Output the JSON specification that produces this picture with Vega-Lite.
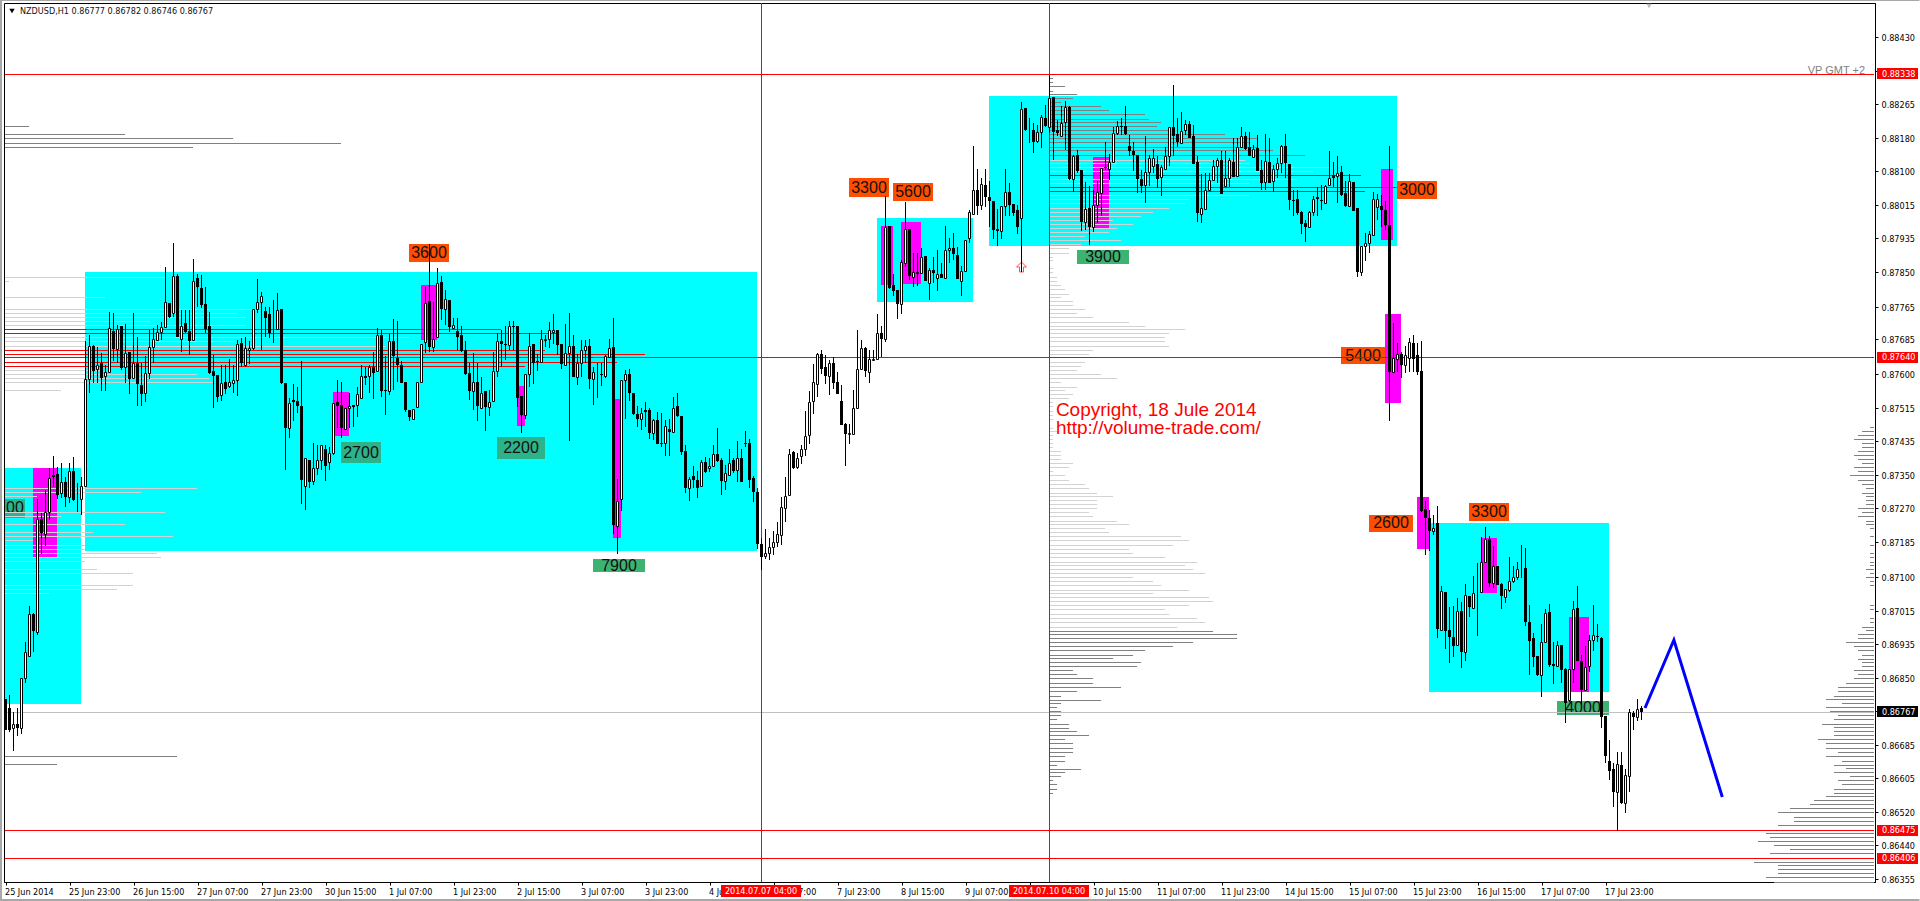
{"$schema":"https://vega.github.io/schema/vega-lite/v6.json","width":1871,"height":879,"autosize":{"type":"none"},"padding":{"left":4,"top":3,"right":45,"bottom":19},"background":"white","config":{"view":{"stroke":"black","strokeWidth":1},"axis":{"grid":false,"title":null},"scale":{"continuousPadding":0}},
"datasets":{
"frame":[{"x":-1.375,"x2":-0.875,"y":0.8852,"y2":0.863},{"x":-1.375,"x2":478.5,"y":0.8852,"y2":0.88517},{"x":-1.375,"x2":478.5,"y":0.86306,"y2":0.86301}],
"zones":[{"x":-0.125,"x2":18.875,"y":0.87367,"y2":0.86786},{"x":19.875,"x2":187.875,"y":0.8785,"y2":0.87163},{"x":217.875,"x2":241.875,"y":0.87983,"y2":0.87777},{"x":245.875,"x2":347.875,"y":0.88283,"y2":0.87915},{"x":355.875,"x2":400.875,"y":0.87232,"y2":0.86816}],
"spikes":[{"x":6.875,"x2":12.875,"y":0.87367,"y2":0.87148},{"x":81.875,"x2":85.875,"y":0.87555,"y2":0.87447},{"x":103.875,"x2":107.875,"y":0.87818,"y2":0.87683},{"x":127.875,"x2":129.875,"y":0.87569,"y2":0.87472},{"x":151.875,"x2":153.875,"y":0.87537,"y2":0.87196},{"x":218.875,"x2":221.875,"y":0.87963,"y2":0.87819},{"x":223.875,"x2":228.875,"y":0.87973,"y2":0.87821},{"x":271.875,"x2":275.875,"y":0.88133,"y2":0.87959},{"x":343.875,"x2":346.875,"y":0.88104,"y2":0.8793},{"x":344.875,"x2":348.875,"y":0.87747,"y2":0.87528},{"x":352.875,"x2":355.875,"y":0.87296,"y2":0.87168},{"x":368.875,"x2":372.875,"y":0.87195,"y2":0.8706},{"x":390.875,"x2":395.875,"y":0.87,"y2":0.86816}],
"labels":[{"x":100.875,"x2":110.875,"y":0.87919,"y2":0.87875,"xm":105.875,"ym":0.87897,"t":"3600","k":"sell"},{"x":83.875,"x2":93.875,"y":0.87431,"y2":0.8738,"xm":88.875,"ym":0.87405,"t":"2700","k":"buy1"},{"x":122.875,"x2":134.875,"y":0.87444,"y2":0.8739,"xm":128.875,"ym":0.87417,"t":"2200","k":"buy1"},{"x":146.875,"x2":159.875,"y":0.87143,"y2":0.87111,"xm":153.375,"ym":0.87127,"t":"7900","k":"buy2"},{"x":-0.125,"x2":4.875,"y":0.87291,"y2":0.87245,"xm":2.375,"ym":0.87268,"t":"00","k":"buy1"},{"x":210.875,"x2":220.875,"y":0.88082,"y2":0.88035,"xm":215.875,"ym":0.88058,"t":"3300","k":"sell"},{"x":221.875,"x2":231.875,"y":0.88069,"y2":0.88025,"xm":226.875,"ym":0.88047,"t":"5600","k":"sell"},{"x":347.875,"x2":357.875,"y":0.88074,"y2":0.8803,"xm":352.875,"ym":0.88052,"t":"3000","k":"sell"},{"x":267.875,"x2":280.875,"y":0.87904,"y2":0.8787,"xm":274.375,"ym":0.87887,"t":"3900","k":"buy2"},{"x":333.875,"x2":344.875,"y":0.87665,"y2":0.87623,"xm":339.375,"ym":0.87644,"t":"5400","k":"sell"},{"x":340.875,"x2":351.875,"y":0.87252,"y2":0.8721,"xm":346.375,"ym":0.87231,"t":"2600","k":"sell"},{"x":365.875,"x2":375.875,"y":0.87281,"y2":0.87237,"xm":370.875,"ym":0.87259,"t":"3300","k":"sell"},{"x":387.875,"x2":400.875,"y":0.86794,"y2":0.86759,"xm":394.375,"ym":0.86777,"t":"4000","k":"buy2"}],
"profile":[
{"y":0.88209,"x":-0.125,"x2":5.875,"k":"d"},{"y":0.88189,"x":-0.125,"x2":29.875,"k":"d"},{"y":0.8818,"x":-0.125,"x2":56.875,"k":"d"},{"y":0.88167,"x":-0.125,"x2":83.875,"k":"d"},{"y":0.88157,"x":-0.125,"x2":46.875,"k":"d"},
{"y":0.87837,"x":-0.125,"x2":39.875,"k":"l"},{"y":0.87827,"x":-0.125,"x2":0.875,"k":"l"},{"y":0.87788,"x":-0.125,"x2":24.875,"k":"l"},{"y":0.87758,"x":-0.125,"x2":62.8,"k":"l"},{"y":0.87749,"x":-0.125,"x2":57.875,"k":"l"},{"y":0.87739,"x":-0.125,"x2":59.875,"k":"l"},{"y":0.87729,"x":-0.125,"x2":35.875,"k":"l"},{"y":0.87719,"x":-0.125,"x2":59.875,"k":"l"},{"y":0.87689,"x":-0.125,"x2":100.875,"k":"l"},{"y":0.8768,"x":-0.125,"x2":57,"k":"l"},{"y":0.87667,"x":-0.125,"x2":94.875,"k":"l"},{"y":0.87608,"x":-0.125,"x2":23.6,"k":"l"},{"y":0.87598,"x":-0.125,"x2":47.875,"k":"l"},{"y":0.87588,"x":-0.125,"x2":50.875,"k":"l"},{"y":0.87579,"x":-0.125,"x2":52,"k":"l"},{"y":0.87559,"x":-0.125,"x2":13.875,"k":"l"},{"y":0.87317,"x":-0.125,"x2":47.875,"k":"l"},{"y":0.87308,"x":-0.125,"x2":33.875,"k":"l"},{"y":0.87298,"x":-0.125,"x2":7.875,"k":"l"},{"y":0.87258,"x":-0.125,"x2":39.875,"k":"l"},{"y":0.87248,"x":-0.125,"x2":13.875,"k":"l"},{"y":0.87229,"x":-0.125,"x2":29.875,"k":"l"},{"y":0.87209,"x":-0.125,"x2":21.875,"k":"l"},{"y":0.87199,"x":-0.125,"x2":41.875,"k":"l"},{"y":0.87189,"x":-0.125,"x2":6.875,"k":"l"},{"y":0.87177,"x":-0.125,"x2":19.875,"k":"l"},{"y":0.87167,"x":-0.125,"x2":19.875,"k":"l"},{"y":0.87157,"x":-0.125,"x2":37.875,"k":"l"},{"y":0.87147,"x":-0.125,"x2":38.875,"k":"l"},{"y":0.87138,"x":-0.125,"x2":19.875,"k":"l"},{"y":0.87118,"x":-0.125,"x2":22.875,"k":"l"},{"y":0.87108,"x":-0.125,"x2":31.875,"k":"l"},{"y":0.87079,"x":-0.125,"x2":31.875,"k":"l"},{"y":0.87069,"x":-0.125,"x2":27.875,"k":"l"},{"y":0.87059,"x":-0.125,"x2":10.875,"k":"l"},{"y":0.86657,"x":-0.125,"x2":42.875,"k":"d"},{"y":0.86638,"x":-0.125,"x2":12.875,"k":"d"},
{"y":0.88327,"x":261,"x2":261.9,"k":"d"},{"y":0.88317,"x":261,"x2":261.9,"k":"d"},{"y":0.88307,"x":261,"x2":264.9,"k":"d"},{"y":0.88297,"x":261,"x2":261.9,"k":"d"},{"y":0.88288,"x":261,"x2":267.9,"k":"d"},{"y":0.88278,"x":261,"x2":266.9,"k":"d"},{"y":0.88268,"x":261,"x2":263.9,"k":"d"},{"y":0.88258,"x":261,"x2":273.9,"k":"d"},{"y":0.88248,"x":261,"x2":275.9,"k":"d"},{"y":0.88238,"x":261,"x2":284.9,"k":"d"},{"y":0.88228,"x":261,"x2":285.9,"k":"d"},{"y":0.88219,"x":261,"x2":288.9,"k":"d"},{"y":0.88209,"x":261,"x2":287.9,"k":"d"},{"y":0.88199,"x":261,"x2":290.9,"k":"d"},{"y":0.88189,"x":261,"x2":304.9,"k":"d"},{"y":0.88179,"x":261,"x2":312.9,"k":"d"},{"y":0.88169,"x":261,"x2":310.9,"k":"d"},{"y":0.88159,"x":261,"x2":312.9,"k":"d"},{"y":0.8815,"x":261,"x2":316.9,"k":"d"},{"y":0.88137,"x":261,"x2":324.9,"k":"d"},
{"y":0.88127,"x":261,"x2":309.9,"k":"l"},{"y":0.88118,"x":261,"x2":310.9,"k":"l"},{"y":0.88108,"x":261,"x2":330.9,"k":"l"},{"y":0.88098,"x":261,"x2":326.9,"k":"l"},{"y":0.88078,"x":261,"x2":322.9,"k":"l"},{"y":0.88068,"x":261,"x2":310.9,"k":"l"},{"y":0.88039,"x":261,"x2":310.9,"k":"l"},{"y":0.88029,"x":261,"x2":295.9,"k":"l"},{"y":0.88019,"x":261,"x2":294.9,"k":"l"},{"y":0.88008,"x":261,"x2":290.9,"k":"l"},{"y":0.87998,"x":261,"x2":286.9,"k":"l"},{"y":0.87988,"x":261,"x2":283.9,"k":"l"},{"y":0.87978,"x":261,"x2":276.9,"k":"l"},{"y":0.87968,"x":261,"x2":281.9,"k":"l"},{"y":0.87958,"x":261,"x2":277.9,"k":"l"},{"y":0.87948,"x":261,"x2":275.9,"k":"l"},{"y":0.87938,"x":261,"x2":269.9,"k":"l"},{"y":0.87928,"x":261,"x2":278.9,"k":"l"},{"y":0.87918,"x":261,"x2":268.9,"k":"l"},{"y":0.87908,"x":261,"x2":265.9,"k":"l"},{"y":0.87898,"x":261,"x2":265.9,"k":"l"},{"y":0.87888,"x":261,"x2":261.9,"k":"l"},{"y":0.87879,"x":261,"x2":261.9,"k":"l"},{"y":0.87859,"x":261,"x2":261.9,"k":"l"},{"y":0.87849,"x":261,"x2":261.9,"k":"l"},{"y":0.87838,"x":261,"x2":262.9,"k":"l"},{"y":0.87828,"x":261,"x2":262.9,"k":"l"},{"y":0.87817,"x":261,"x2":263.9,"k":"l"},{"y":0.87807,"x":261,"x2":264.9,"k":"l"},{"y":0.87797,"x":261,"x2":265.9,"k":"l"},{"y":0.87788,"x":261,"x2":263.9,"k":"l"},{"y":0.87778,"x":261,"x2":266.9,"k":"l"},{"y":0.87768,"x":261,"x2":266.9,"k":"l"},{"y":0.87758,"x":261,"x2":269.9,"k":"l"},{"y":0.87748,"x":261,"x2":267.9,"k":"l"},{"y":0.87738,"x":261,"x2":271.9,"k":"l"},{"y":0.87728,"x":261,"x2":280.9,"k":"l"},{"y":0.87718,"x":261,"x2":284.9,"k":"l"},{"y":0.87709,"x":261,"x2":294.9,"k":"l"},{"y":0.87699,"x":261,"x2":290.9,"k":"l"},{"y":0.87689,"x":261,"x2":289.9,"k":"l"},{"y":0.87679,"x":261,"x2":289.9,"k":"l"},{"y":0.87668,"x":261,"x2":290.9,"k":"l"},{"y":0.87657,"x":261,"x2":271.9,"k":"l"},{"y":0.87647,"x":261,"x2":270.9,"k":"l"},{"y":0.87628,"x":261,"x2":269.9,"k":"l"},{"y":0.87618,"x":261,"x2":268.9,"k":"l"},{"y":0.87608,"x":261,"x2":267.9,"k":"l"},{"y":0.87598,"x":261,"x2":273.9,"k":"l"},{"y":0.87588,"x":261,"x2":277.9,"k":"l"},{"y":0.87578,"x":261,"x2":263.9,"k":"l"},{"y":0.87568,"x":261,"x2":267.9,"k":"l"},
{"y":0.87559,"x":261,"x2":264.9,"k":"l"},{"y":0.8755,"x":261,"x2":266.9,"k":"l"},{"y":0.8754,"x":261,"x2":265.9,"k":"l"},{"y":0.8753,"x":261,"x2":261.9,"k":"l"},{"y":0.8752,"x":261,"x2":261.9,"k":"l"},{"y":0.87507,"x":261,"x2":261.9,"k":"l"},{"y":0.87497,"x":261,"x2":261.9,"k":"l"},{"y":0.87487,"x":261,"x2":261.9,"k":"l"},{"y":0.87467,"x":261,"x2":261.9,"k":"l"},{"y":0.87458,"x":261,"x2":262.9,"k":"l"},{"y":0.87448,"x":261,"x2":261.9,"k":"l"},{"y":0.87438,"x":261,"x2":261.9,"k":"l"},{"y":0.87428,"x":261,"x2":261.9,"k":"l"},{"y":0.87418,"x":261,"x2":261.9,"k":"l"},{"y":0.87408,"x":261,"x2":263.9,"k":"l"},{"y":0.87399,"x":261,"x2":263.9,"k":"l"},{"y":0.87389,"x":261,"x2":263.9,"k":"l"},{"y":0.87379,"x":261,"x2":266.9,"k":"l"},{"y":0.87369,"x":261,"x2":265.9,"k":"l"},{"y":0.87359,"x":261,"x2":261.9,"k":"l"},{"y":0.87349,"x":261,"x2":264.9,"k":"l"},{"y":0.87337,"x":261,"x2":265.9,"k":"l"},{"y":0.87327,"x":261,"x2":269.9,"k":"l"},{"y":0.87317,"x":261,"x2":270.9,"k":"l"},{"y":0.87307,"x":261,"x2":272.9,"k":"l"},{"y":0.87298,"x":261,"x2":276.9,"k":"l"},{"y":0.87288,"x":261,"x2":272.9,"k":"l"},{"y":0.87278,"x":261,"x2":272.9,"k":"l"},{"y":0.87268,"x":261,"x2":272.9,"k":"l"},{"y":0.87258,"x":261,"x2":270.9,"k":"l"},{"y":0.87248,"x":261,"x2":271.9,"k":"l"},{"y":0.87238,"x":261,"x2":277.9,"k":"l"},{"y":0.87229,"x":261,"x2":280.9,"k":"l"},{"y":0.87219,"x":261,"x2":274.9,"k":"l"},{"y":0.87209,"x":261,"x2":275.9,"k":"l"},{"y":0.87199,"x":261,"x2":293.9,"k":"l"},{"y":0.87189,"x":261,"x2":295.9,"k":"l"},{"y":0.87177,"x":261,"x2":291.9,"k":"l"},{"y":0.87167,"x":261,"x2":280.9,"k":"l"},{"y":0.87157,"x":261,"x2":281.9,"k":"l"},{"y":0.87147,"x":261,"x2":289.9,"k":"l"},{"y":0.87137,"x":261,"x2":297.9,"k":"l"},{"y":0.87128,"x":261,"x2":294.9,"k":"l"},{"y":0.87118,"x":261,"x2":296.9,"k":"l"},{"y":0.87108,"x":261,"x2":299.9,"k":"l"},{"y":0.87098,"x":261,"x2":281.9,"k":"l"},{"y":0.87088,"x":261,"x2":286.9,"k":"l"},{"y":0.87078,"x":261,"x2":288.9,"k":"l"},{"y":0.87068,"x":261,"x2":295.9,"k":"l"},{"y":0.87059,"x":261,"x2":286.9,"k":"l"},{"y":0.87049,"x":261,"x2":300.9,"k":"l"},{"y":0.87039,"x":261,"x2":301.9,"k":"l"},{"y":0.87029,"x":261,"x2":295.9,"k":"l"},{"y":0.87019,"x":261,"x2":289.9,"k":"l"},{"y":0.87007,"x":261,"x2":290.9,"k":"l"},{"y":0.86997,"x":261,"x2":297.9,"k":"l"},{"y":0.86987,"x":261,"x2":299.9,"k":"l"},{"y":0.86977,"x":261,"x2":292.9,"k":"l"},
{"y":0.86967,"x":261,"x2":301.9,"k":"d"},{"y":0.86958,"x":261,"x2":307.9,"k":"d"},{"y":0.86948,"x":261,"x2":307.9,"k":"d"},{"y":0.86938,"x":261,"x2":296.9,"k":"d"},{"y":0.86928,"x":261,"x2":291.9,"k":"d"},{"y":0.86918,"x":261,"x2":284.9,"k":"d"},{"y":0.86908,"x":261,"x2":281.9,"k":"d"},{"y":0.86899,"x":261,"x2":276.9,"k":"d"},{"y":0.86889,"x":261,"x2":283.9,"k":"d"},{"y":0.86879,"x":261,"x2":282.9,"k":"d"},{"y":0.86869,"x":261,"x2":266.9,"k":"d"},{"y":0.86859,"x":261,"x2":267.9,"k":"d"},{"y":0.86849,"x":261,"x2":271.9,"k":"d"},{"y":0.86837,"x":261,"x2":271.9,"k":"d"},{"y":0.86827,"x":261,"x2":278.9,"k":"d"},{"y":0.86817,"x":261,"x2":267.9,"k":"d"},{"y":0.86807,"x":261,"x2":263.9,"k":"d"},{"y":0.86797,"x":261,"x2":273.9,"k":"d"},{"y":0.86788,"x":261,"x2":263.9,"k":"d"},{"y":0.86778,"x":261,"x2":262.9,"k":"d"},{"y":0.86768,"x":261,"x2":263.9,"k":"d"},{"y":0.86758,"x":261,"x2":263.9,"k":"d"},{"y":0.86748,"x":261,"x2":262.9,"k":"d"},{"y":0.86738,"x":261,"x2":265.9,"k":"d"},{"y":0.86728,"x":261,"x2":265.9,"k":"d"},{"y":0.86719,"x":261,"x2":267.9,"k":"d"},{"y":0.86709,"x":261,"x2":270.9,"k":"d"},{"y":0.86699,"x":261,"x2":264.9,"k":"d"},{"y":0.86689,"x":261,"x2":266.9,"k":"d"},{"y":0.86677,"x":261,"x2":266.9,"k":"d"},{"y":0.86667,"x":261,"x2":266.9,"k":"d"},{"y":0.86657,"x":261,"x2":264.9,"k":"d"},{"y":0.86647,"x":261,"x2":264.9,"k":"d"},{"y":0.86637,"x":261,"x2":262.9,"k":"d"},{"y":0.86627,"x":261,"x2":268.9,"k":"d"},{"y":0.86618,"x":261,"x2":264.9,"k":"d"},{"y":0.86608,"x":261,"x2":263.9,"k":"d"},{"y":0.86598,"x":261,"x2":261.9,"k":"d"},{"y":0.86588,"x":261,"x2":262.9,"k":"d"},{"y":0.86578,"x":261,"x2":262.9,"k":"d"},{"y":0.86568,"x":261,"x2":261.9,"k":"d"},
{"y":0.87468,"x":466.125,"x2":467.125,"k":"d"},{"y":0.87458,"x":464.125,"x2":467.125,"k":"d"},{"y":0.87448,"x":463.125,"x2":467.125,"k":"d"},{"y":0.87438,"x":462.125,"x2":467.125,"k":"d"},{"y":0.87428,"x":464.125,"x2":467.125,"k":"d"},{"y":0.87418,"x":464.125,"x2":467.125,"k":"d"},{"y":0.87408,"x":463.125,"x2":467.125,"k":"d"},{"y":0.87399,"x":462.125,"x2":467.125,"k":"d"},{"y":0.87389,"x":463.125,"x2":467.125,"k":"d"},{"y":0.87379,"x":464.125,"x2":467.125,"k":"d"},{"y":0.87369,"x":462.125,"x2":467.125,"k":"d"},{"y":0.87359,"x":463.125,"x2":467.125,"k":"d"},{"y":0.87349,"x":461.125,"x2":467.125,"k":"d"},{"y":0.87337,"x":463.125,"x2":467.125,"k":"d"},{"y":0.87327,"x":464.125,"x2":467.125,"k":"d"},{"y":0.87317,"x":465.125,"x2":467.125,"k":"d"},{"y":0.87307,"x":464.125,"x2":467.125,"k":"d"},{"y":0.87298,"x":465.125,"x2":467.125,"k":"d"},{"y":0.87288,"x":465.125,"x2":467.125,"k":"d"},{"y":0.87278,"x":465.125,"x2":467.125,"k":"d"},{"y":0.87268,"x":463.125,"x2":467.125,"k":"d"},{"y":0.87258,"x":464.125,"x2":467.125,"k":"d"},{"y":0.87248,"x":463.125,"x2":467.125,"k":"d"},{"y":0.87238,"x":465.125,"x2":467.125,"k":"d"},{"y":0.87229,"x":465.125,"x2":467.125,"k":"d"},{"y":0.87219,"x":466.125,"x2":467.125,"k":"d"},{"y":0.87199,"x":466.125,"x2":467.125,"k":"d"},{"y":0.87177,"x":466.125,"x2":467.125,"k":"d"},{"y":0.87157,"x":466.125,"x2":467.125,"k":"d"},{"y":0.87147,"x":466.125,"x2":467.125,"k":"d"},{"y":0.87137,"x":466.125,"x2":467.125,"k":"d"},{"y":0.87128,"x":466.125,"x2":467.125,"k":"d"},{"y":0.87118,"x":465.125,"x2":467.125,"k":"d"},{"y":0.87108,"x":466.125,"x2":467.125,"k":"d"},{"y":0.87098,"x":465.125,"x2":467.125,"k":"d"},{"y":0.87088,"x":466.125,"x2":467.125,"k":"d"},{"y":0.87078,"x":466.125,"x2":467.125,"k":"d"},{"y":0.87029,"x":466.125,"x2":467.125,"k":"d"},{"y":0.87019,"x":466.125,"x2":467.125,"k":"d"},{"y":0.86997,"x":466.125,"x2":467.125,"k":"d"},{"y":0.86987,"x":466.125,"x2":467.125,"k":"d"},{"y":0.86977,"x":464.125,"x2":467.125,"k":"d"},{"y":0.86968,"x":465.125,"x2":467.125,"k":"d"},{"y":0.86958,"x":463.125,"x2":467.125,"k":"d"},{"y":0.86948,"x":463.125,"x2":467.125,"k":"d"},{"y":0.86938,"x":460.125,"x2":467.125,"k":"d"},{"y":0.86928,"x":462.125,"x2":467.125,"k":"d"},{"y":0.86918,"x":463.125,"x2":467.125,"k":"d"},{"y":0.86908,"x":464.125,"x2":467.125,"k":"d"},{"y":0.86898,"x":463.125,"x2":467.125,"k":"d"},{"y":0.86889,"x":464.125,"x2":467.125,"k":"d"},{"y":0.86879,"x":464.125,"x2":467.125,"k":"d"},{"y":0.86869,"x":462.125,"x2":467.125,"k":"d"},{"y":0.86859,"x":463.125,"x2":467.125,"k":"d"},{"y":0.86849,"x":462.125,"x2":467.125,"k":"d"},{"y":0.86837,"x":460.125,"x2":467.125,"k":"d"},{"y":0.86827,"x":458.125,"x2":467.125,"k":"d"},{"y":0.86817,"x":458.125,"x2":467.125,"k":"d"},{"y":0.86807,"x":457.125,"x2":467.125,"k":"d"},{"y":0.86798,"x":455.125,"x2":467.125,"k":"d"},{"y":0.86788,"x":459.125,"x2":467.125,"k":"d"},{"y":0.86778,"x":455.125,"x2":467.125,"k":"d"},{"y":0.86768,"x":456.125,"x2":467.125,"k":"d"},{"y":0.86758,"x":458.125,"x2":467.125,"k":"d"},{"y":0.86748,"x":457.125,"x2":467.125,"k":"d"},{"y":0.86738,"x":454.125,"x2":467.125,"k":"d"},{"y":0.86729,"x":457.125,"x2":467.125,"k":"d"},{"y":0.86719,"x":457.125,"x2":467.125,"k":"d"},{"y":0.86709,"x":457.125,"x2":467.125,"k":"d"},{"y":0.86699,"x":453.125,"x2":467.125,"k":"d"},{"y":0.86689,"x":455.125,"x2":467.125,"k":"d"},{"y":0.86677,"x":455.125,"x2":467.125,"k":"d"},{"y":0.86667,"x":458.125,"x2":467.125,"k":"d"},{"y":0.86657,"x":455.125,"x2":467.125,"k":"d"},{"y":0.86647,"x":459.125,"x2":467.125,"k":"d"},{"y":0.86637,"x":457.125,"x2":467.125,"k":"d"},{"y":0.86628,"x":460.125,"x2":467.125,"k":"d"},{"y":0.86618,"x":457.125,"x2":467.125,"k":"d"},{"y":0.86608,"x":461.125,"x2":467.125,"k":"d"},{"y":0.86598,"x":458.125,"x2":467.125,"k":"d"},{"y":0.86588,"x":459.125,"x2":467.125,"k":"d"},{"y":0.86578,"x":457.125,"x2":467.125,"k":"d"},{"y":0.86568,"x":457.125,"x2":467.125,"k":"d"},{"y":0.86559,"x":455.125,"x2":467.125,"k":"d"},{"y":0.86549,"x":452.125,"x2":467.125,"k":"d"},{"y":0.86539,"x":451.125,"x2":467.125,"k":"d"},{"y":0.86529,"x":446.125,"x2":467.125,"k":"d"},{"y":0.86519,"x":443.125,"x2":467.125,"k":"d"},{"y":0.86507,"x":447.125,"x2":467.125,"k":"d"},{"y":0.86497,"x":447.125,"x2":467.125,"k":"d"},{"y":0.86487,"x":443.125,"x2":467.125,"k":"d"},{"y":0.86477,"x":434.125,"x2":467.125,"k":"d"},{"y":0.86468,"x":440.125,"x2":467.125,"k":"d"},{"y":0.86458,"x":441.125,"x2":467.125,"k":"d"},{"y":0.86448,"x":438.125,"x2":467.125,"k":"d"},{"y":0.86438,"x":442.125,"x2":467.125,"k":"d"},{"y":0.86428,"x":446.125,"x2":467.125,"k":"d"},{"y":0.86418,"x":441.125,"x2":467.125,"k":"d"},{"y":0.86408,"x":446.125,"x2":467.125,"k":"d"},{"y":0.86398,"x":437.125,"x2":467.125,"k":"d"},{"y":0.86389,"x":443.125,"x2":467.125,"k":"d"},{"y":0.86379,"x":443.125,"x2":467.125,"k":"d"},{"y":0.86369,"x":443.125,"x2":467.125,"k":"d"},{"y":0.86359,"x":440.125,"x2":467.125,"k":"d"},{"y":0.86349,"x":442.125,"x2":467.125,"k":"d"}],
"levels":[{"y":0.88338,"x":-0.125,"x2":467.125,"k":"r"},{"y":0.8764,"x":-0.125,"x2":467.125,"k":"r"},{"y":0.86475,"x":-0.125,"x2":467.125,"k":"r"},{"y":0.86406,"x":-0.125,"x2":467.125,"k":"r"},{"y":0.87709,"x":-0.125,"x2":123.875,"k":"r"},{"y":0.87699,"x":-0.125,"x2":137.875,"k":"r"},{"y":0.87657,"x":-0.125,"x2":134.875,"k":"r"},{"y":0.87647,"x":-0.125,"x2":159.875,"k":"r"},{"y":0.87628,"x":-0.125,"x2":152.875,"k":"r"},{"y":0.87618,"x":-0.125,"x2":129.875,"k":"r"},{"y":0.88088,"x":261,"x2":338.875,"k":"r"},{"y":0.88059,"x":261,"x2":347.875,"k":"r"},{"y":0.88049,"x":261,"x2":339.875,"k":"r"}],
"cross":[{"x":189,"y":0.885125,"y2":0.863478},{"x":261,"y":0.885125,"y2":0.863478}],
"route":[{"x":409.875,"y":0.86776},{"x":417.1,"y":0.86945},{"x":429.2,"y":0.86558}],
"ytags":[{"x":467.875,"x2":478.125,"y":0.88352,"y2":0.88325,"xt":469.125,"yt":0.88338,"t":"0.88338","k":"r"},{"x":467.875,"x2":478.125,"y":0.87654,"y2":0.87627,"xt":469.125,"yt":0.8764,"t":"0.87640","k":"r"},{"x":467.875,"x2":478.125,"y":0.86781,"y2":0.86754,"xt":469.125,"yt":0.86767,"t":"0.86767","k":"b"},{"x":467.875,"x2":478.125,"y":0.86489,"y2":0.86462,"xt":469.125,"yt":0.86475,"t":"0.86475","k":"r"},{"x":467.875,"x2":478.125,"y":0.8642,"y2":0.86393,"xt":469.125,"yt":0.86406,"t":"0.86406","k":"r"},{"x":178.875,"x2":198.875,"y":0.8634,"y2":0.86311,"xt":188.875,"yt":0.86325,"t":"2014.07.07 04:00","k":"r"},{"x":250.875,"x2":270.875,"y":0.8634,"y2":0.86311,"xt":260.875,"yt":0.86325,"t":"2014.07.10 04:00","k":"r"}],
"candles":[
{"i":0,"o":0.86798,"h":0.86798,"l":0.86722,"c":0.86722},{"i":1,"o":0.86776,"h":0.86808,"l":0.86718,"c":0.86722},{"i":2,"o":0.86728,"h":0.86767,"l":0.86671,"c":0.86736},{"i":3,"o":0.86736,"h":0.86776,"l":0.86707,"c":0.86728},{"i":4,"o":0.86728,"h":0.8685,"l":0.86712,"c":0.8685},{"i":5,"o":0.86851,"h":0.86938,"l":0.86839,"c":0.86913},{"i":6,"o":0.86905,"h":0.87028,"l":0.86905,"c":0.87007},{"i":7,"o":0.87007,"h":0.8701,"l":0.86915,"c":0.86967},{"i":8,"o":0.86964,"h":0.8729,"l":0.86955,"c":0.87241},{"i":9,"o":0.87241,"h":0.87256,"l":0.87156,"c":0.87208},
{"i":10,"o":0.87204,"h":0.87313,"l":0.87176,"c":0.87258},{"i":11,"o":0.87258,"h":0.87367,"l":0.87239,"c":0.87342},{"i":12,"o":0.87349,"h":0.87397,"l":0.8732,"c":0.87345},{"i":13,"o":0.87353,"h":0.87371,"l":0.87291,"c":0.87301},{"i":14,"o":0.87305,"h":0.87379,"l":0.87293,"c":0.87334},{"i":15,"o":0.87334,"h":0.87346,"l":0.87272,"c":0.87297},{"i":16,"o":0.87295,"h":0.87379,"l":0.87282,"c":0.8736},{"i":17,"o":0.8736,"h":0.87394,"l":0.87285,"c":0.87289},{"i":18,"o":0.87292,"h":0.8733,"l":0.87258,"c":0.87291},{"i":19,"o":0.8729,"h":0.87346,"l":0.87252,"c":0.87324},
{"i":20,"o":0.87324,"h":0.8768,"l":0.87324,"c":0.87586},{"i":21,"o":0.87586,"h":0.87695,"l":0.87553,"c":0.87668},{"i":22,"o":0.87668,"h":0.87671,"l":0.87576,"c":0.87607},{"i":23,"o":0.87612,"h":0.87666,"l":0.87576,"c":0.8762},{"i":24,"o":0.87627,"h":0.8765,"l":0.87556,"c":0.87588},{"i":25,"o":0.87595,"h":0.87621,"l":0.87556,"c":0.87603},{"i":26,"o":0.87605,"h":0.87751,"l":0.87605,"c":0.87712},{"i":27,"o":0.87705,"h":0.87749,"l":0.8763,"c":0.87661},{"i":28,"o":0.87661,"h":0.8772,"l":0.87625,"c":0.87709},{"i":29,"o":0.87717,"h":0.87717,"l":0.87609,"c":0.87613},
{"i":30,"o":0.87616,"h":0.87722,"l":0.87576,"c":0.8765},{"i":31,"o":0.87654,"h":0.87654,"l":0.8755,"c":0.87587},{"i":32,"o":0.87588,"h":0.87749,"l":0.87586,"c":0.87625},{"i":33,"o":0.87627,"h":0.87689,"l":0.87521,"c":0.87575},{"i":34,"o":0.87572,"h":0.87625,"l":0.87521,"c":0.8755},{"i":35,"o":0.87552,"h":0.87642,"l":0.87529,"c":0.87601},{"i":36,"o":0.87602,"h":0.87708,"l":0.87586,"c":0.87665},{"i":37,"o":0.87666,"h":0.87712,"l":0.87625,"c":0.87685},{"i":38,"o":0.87683,"h":0.8772,"l":0.87681,"c":0.87702},{"i":39,"o":0.87702,"h":0.87728,"l":0.87683,"c":0.87714},
{"i":40,"o":0.87714,"h":0.87862,"l":0.87714,"c":0.87776},{"i":41,"o":0.87773,"h":0.87773,"l":0.87736,"c":0.87739},{"i":42,"o":0.8775,"h":0.87921,"l":0.87739,"c":0.8784},{"i":43,"o":0.8784,"h":0.87845,"l":0.87689,"c":0.87691},{"i":44,"o":0.87686,"h":0.87757,"l":0.87654,"c":0.87716},{"i":45,"o":0.87724,"h":0.87757,"l":0.87699,"c":0.87702},{"i":46,"o":0.87705,"h":0.87757,"l":0.87646,"c":0.87681},{"i":47,"o":0.87683,"h":0.87882,"l":0.87681,"c":0.87827},{"i":48,"o":0.87836,"h":0.87845,"l":0.87763,"c":0.87812},{"i":49,"o":0.87811,"h":0.87843,"l":0.87761,"c":0.87769},
{"i":50,"o":0.87772,"h":0.87814,"l":0.87701,"c":0.87709},{"i":51,"o":0.87717,"h":0.87751,"l":0.87599,"c":0.87602},{"i":52,"o":0.87607,"h":0.87646,"l":0.87516,"c":0.87593},{"i":53,"o":0.87596,"h":0.87596,"l":0.87531,"c":0.87541},{"i":54,"o":0.87547,"h":0.87621,"l":0.87533,"c":0.87576},{"i":55,"o":0.87579,"h":0.87621,"l":0.8755,"c":0.87563},{"i":56,"o":0.8757,"h":0.87635,"l":0.87564,"c":0.87578},{"i":57,"o":0.87576,"h":0.87621,"l":0.87553,"c":0.87583},{"i":58,"o":0.87584,"h":0.87683,"l":0.87545,"c":0.87672},{"i":59,"o":0.87675,"h":0.87687,"l":0.87615,"c":0.87625},
{"i":60,"o":0.87621,"h":0.87691,"l":0.87617,"c":0.87662},{"i":61,"o":0.87657,"h":0.87679,"l":0.87624,"c":0.87662},{"i":62,"o":0.87662,"h":0.87758,"l":0.87658,"c":0.87758},{"i":63,"o":0.87758,"h":0.87832,"l":0.87749,"c":0.87776},{"i":64,"o":0.87776,"h":0.87802,"l":0.87658,"c":0.8779},{"i":65,"o":0.87755,"h":0.87765,"l":0.87689,"c":0.87737},{"i":66,"o":0.87747,"h":0.87765,"l":0.87687,"c":0.87699},{"i":67,"o":0.87708,"h":0.87781,"l":0.87675,"c":0.87706},{"i":68,"o":0.87709,"h":0.87798,"l":0.87708,"c":0.87756},{"i":69,"o":0.87759,"h":0.87759,"l":0.87575,"c":0.87576},
{"i":70,"o":0.87576,"h":0.87576,"l":0.87363,"c":0.87467},{"i":71,"o":0.87467,"h":0.87539,"l":0.87442,"c":0.87527},{"i":72,"o":0.87535,"h":0.87575,"l":0.87482,"c":0.87529},{"i":73,"o":0.87532,"h":0.87568,"l":0.87502,"c":0.87521},{"i":74,"o":0.8752,"h":0.87631,"l":0.87279,"c":0.87338},{"i":75,"o":0.87322,"h":0.87391,"l":0.87263,"c":0.87391},{"i":76,"o":0.87387,"h":0.87387,"l":0.87318,"c":0.87332},{"i":77,"o":0.87336,"h":0.87428,"l":0.87326,"c":0.87367},{"i":78,"o":0.87368,"h":0.87424,"l":0.8735,"c":0.87386},{"i":79,"o":0.87386,"h":0.87424,"l":0.87363,"c":0.87423},
{"i":80,"o":0.87414,"h":0.87424,"l":0.87336,"c":0.87373},{"i":81,"o":0.87381,"h":0.8742,"l":0.87363,"c":0.87404},{"i":82,"o":0.87405,"h":0.87527,"l":0.874,"c":0.87527},{"i":83,"o":0.87529,"h":0.87584,"l":0.87465,"c":0.87521},{"i":84,"o":0.87522,"h":0.8758,"l":0.87441,"c":0.87467},{"i":85,"o":0.87463,"h":0.87515,"l":0.87461,"c":0.87515},{"i":86,"o":0.87515,"h":0.87552,"l":0.87465,"c":0.87519},{"i":87,"o":0.87522,"h":0.87523,"l":0.87469,"c":0.87518},{"i":88,"o":0.87522,"h":0.87568,"l":0.87494,"c":0.87549},{"i":89,"o":0.87539,"h":0.87621,"l":0.87539,"c":0.87593},
{"i":90,"o":0.87594,"h":0.87617,"l":0.87572,"c":0.8759},{"i":91,"o":0.87593,"h":0.87621,"l":0.87552,"c":0.87617},{"i":92,"o":0.87617,"h":0.87654,"l":0.87538,"c":0.87602},{"i":93,"o":0.87607,"h":0.87712,"l":0.87607,"c":0.87694},{"i":94,"o":0.87694,"h":0.87708,"l":0.87543,"c":0.87558},{"i":95,"o":0.8756,"h":0.87642,"l":0.87497,"c":0.87558},{"i":96,"o":0.87558,"h":0.87698,"l":0.87547,"c":0.8768},{"i":97,"o":0.8768,"h":0.87735,"l":0.8756,"c":0.87642},{"i":98,"o":0.87638,"h":0.8773,"l":0.8758,"c":0.8762},{"i":99,"o":0.8762,"h":0.8763,"l":0.87576,"c":0.87576},
{"i":100,"o":0.87579,"h":0.87579,"l":0.87506,"c":0.8751},{"i":101,"o":0.8751,"h":0.8751,"l":0.87482,"c":0.87492},{"i":102,"o":0.87487,"h":0.87512,"l":0.87486,"c":0.87512},{"i":103,"o":0.87517,"h":0.87579,"l":0.87517,"c":0.87579},{"i":104,"o":0.87578,"h":0.87672,"l":0.87578,"c":0.87672},{"i":105,"o":0.87677,"h":0.87814,"l":0.8765,"c":0.87773},{"i":106,"o":0.87778,"h":0.87919,"l":0.87654,"c":0.87666},{"i":107,"o":0.87666,"h":0.87777,"l":0.87652,"c":0.87686},{"i":108,"o":0.87689,"h":0.87859,"l":0.87687,"c":0.87822},{"i":109,"o":0.87826,"h":0.87839,"l":0.87732,"c":0.8776},
{"i":110,"o":0.8776,"h":0.87806,"l":0.8772,"c":0.87783},{"i":111,"o":0.87781,"h":0.87781,"l":0.87703,"c":0.87714},{"i":112,"o":0.87713,"h":0.87736,"l":0.87712,"c":0.87719},{"i":113,"o":0.87705,"h":0.87736,"l":0.87658,"c":0.87689},{"i":114,"o":0.87695,"h":0.87716,"l":0.87652,"c":0.87656},{"i":115,"o":0.87658,"h":0.87679,"l":0.87597,"c":0.87599},{"i":116,"o":0.87601,"h":0.87625,"l":0.87535,"c":0.87556},{"i":117,"o":0.87558,"h":0.8765,"l":0.8751,"c":0.8758},{"i":118,"o":0.87579,"h":0.87625,"l":0.87482,"c":0.87521},{"i":119,"o":0.87516,"h":0.87592,"l":0.87514,"c":0.87553},
{"i":120,"o":0.87557,"h":0.87557,"l":0.87459,"c":0.87517},{"i":121,"o":0.87518,"h":0.87559,"l":0.87495,"c":0.87529},{"i":122,"o":0.87533,"h":0.87653,"l":0.8753,"c":0.87607},{"i":123,"o":0.87607,"h":0.87701,"l":0.87592,"c":0.87679},{"i":124,"o":0.87679,"h":0.87708,"l":0.87617,"c":0.87672},{"i":125,"o":0.87672,"h":0.87717,"l":0.87633,"c":0.87671},{"i":126,"o":0.87671,"h":0.8773,"l":0.87658,"c":0.87718},{"i":127,"o":0.87718,"h":0.8773,"l":0.87658,"c":0.87715},{"i":128,"o":0.87717,"h":0.87717,"l":0.87518,"c":0.8754},{"i":129,"o":0.87544,"h":0.87544,"l":0.87454,"c":0.87498},
{"i":130,"o":0.87497,"h":0.876,"l":0.87487,"c":0.876},{"i":131,"o":0.876,"h":0.87699,"l":0.87567,"c":0.87669},{"i":132,"o":0.87672,"h":0.87672,"l":0.87574,"c":0.87626},{"i":133,"o":0.87632,"h":0.87649,"l":0.87607,"c":0.87629},{"i":134,"o":0.87629,"h":0.87707,"l":0.87625,"c":0.87686},{"i":135,"o":0.87683,"h":0.87695,"l":0.87666,"c":0.87685},{"i":136,"o":0.87684,"h":0.87727,"l":0.87662,"c":0.87706},{"i":137,"o":0.87703,"h":0.87746,"l":0.87672,"c":0.87708},{"i":138,"o":0.87708,"h":0.87708,"l":0.87645,"c":0.87671},{"i":139,"o":0.87672,"h":0.87672,"l":0.87611,"c":0.87623},
{"i":140,"o":0.87622,"h":0.87722,"l":0.87621,"c":0.87651},{"i":141,"o":0.87651,"h":0.8775,"l":0.87434,"c":0.87669},{"i":142,"o":0.87669,"h":0.87695,"l":0.87592,"c":0.87592},{"i":143,"o":0.87592,"h":0.87648,"l":0.87571,"c":0.87625},{"i":144,"o":0.87627,"h":0.87682,"l":0.87592,"c":0.87659},{"i":145,"o":0.87658,"h":0.87682,"l":0.87625,"c":0.87669},{"i":146,"o":0.87669,"h":0.87684,"l":0.87563,"c":0.87587},{"i":147,"o":0.87587,"h":0.87617,"l":0.87522,"c":0.87603},{"i":148,"o":0.87605,"h":0.87625,"l":0.87539,"c":0.87603},{"i":149,"o":0.876,"h":0.87625,"l":0.87569,"c":0.87597},
{"i":150,"o":0.87594,"h":0.87645,"l":0.87588,"c":0.87642},{"i":151,"o":0.87641,"h":0.87684,"l":0.87639,"c":0.87663},{"i":152,"o":0.87665,"h":0.87736,"l":0.87204,"c":0.87227},{"i":153,"o":0.87225,"h":0.87341,"l":0.87155,"c":0.87287},{"i":154,"o":0.87292,"h":0.87583,"l":0.87262,"c":0.87583},{"i":155,"o":0.87583,"h":0.87608,"l":0.87489,"c":0.87598},{"i":156,"o":0.87598,"h":0.8761,"l":0.87532,"c":0.87552},{"i":157,"o":0.87553,"h":0.87553,"l":0.87497,"c":0.875},{"i":158,"o":0.875,"h":0.8752,"l":0.87469,"c":0.87487},{"i":159,"o":0.87487,"h":0.87516,"l":0.87461,"c":0.87502},
{"i":160,"o":0.87509,"h":0.87529,"l":0.87469,"c":0.87506},{"i":161,"o":0.8751,"h":0.87514,"l":0.8744,"c":0.87454},{"i":162,"o":0.87454,"h":0.87489,"l":0.87436,"c":0.87485},{"i":163,"o":0.87485,"h":0.87506,"l":0.87426,"c":0.87426},{"i":164,"o":0.87428,"h":0.87502,"l":0.87419,"c":0.87426},{"i":165,"o":0.87429,"h":0.87485,"l":0.87397,"c":0.8747},{"i":166,"o":0.87463,"h":0.87489,"l":0.87397,"c":0.87456},{"i":167,"o":0.87456,"h":0.87541,"l":0.87456,"c":0.87516},{"i":168,"o":0.8752,"h":0.87553,"l":0.87493,"c":0.87495},{"i":169,"o":0.87495,"h":0.87495,"l":0.87399,"c":0.87407},
{"i":170,"o":0.87409,"h":0.87425,"l":0.87306,"c":0.87318},{"i":171,"o":0.87318,"h":0.87346,"l":0.87286,"c":0.87341},{"i":172,"o":0.87347,"h":0.87372,"l":0.87317,"c":0.87337},{"i":173,"o":0.87337,"h":0.8736,"l":0.87294,"c":0.87318},{"i":174,"o":0.87323,"h":0.87387,"l":0.87321,"c":0.87383},{"i":175,"o":0.87383,"h":0.87395,"l":0.87354,"c":0.87358},{"i":176,"o":0.87368,"h":0.87392,"l":0.87358,"c":0.87373},{"i":177,"o":0.87373,"h":0.87423,"l":0.8737,"c":0.87403},{"i":178,"o":0.87401,"h":0.87465,"l":0.87383,"c":0.87385},{"i":179,"o":0.87388,"h":0.87391,"l":0.873,"c":0.87336},
{"i":180,"o":0.87336,"h":0.87374,"l":0.87313,"c":0.87354},{"i":181,"o":0.87351,"h":0.87413,"l":0.8735,"c":0.8738},{"i":182,"o":0.87386,"h":0.87391,"l":0.87354,"c":0.8736},{"i":183,"o":0.87362,"h":0.87433,"l":0.87333,"c":0.87393},{"i":184,"o":0.87391,"h":0.87413,"l":0.87333,"c":0.87333},{"i":185,"o":0.87428,"h":0.87458,"l":0.87419,"c":0.87426},{"i":186,"o":0.8743,"h":0.8744,"l":0.87319,"c":0.87339},{"i":187,"o":0.87342,"h":0.87347,"l":0.87284,"c":0.87308},{"i":188,"o":0.87308,"h":0.87317,"l":0.87169,"c":0.87179},{"i":189,"o":0.87179,"h":0.87194,"l":0.87116,"c":0.87149},
{"i":190,"o":0.8715,"h":0.87217,"l":0.87144,"c":0.87158},{"i":191,"o":0.87158,"h":0.87196,"l":0.8714,"c":0.87173},{"i":192,"o":0.87173,"h":0.87212,"l":0.87153,"c":0.87186},{"i":193,"o":0.87186,"h":0.87235,"l":0.87173,"c":0.87204},{"i":194,"o":0.87202,"h":0.87296,"l":0.87177,"c":0.87272},{"i":195,"o":0.8727,"h":0.87346,"l":0.87235,"c":0.87299},{"i":196,"o":0.87301,"h":0.87413,"l":0.873,"c":0.87403},{"i":197,"o":0.87407,"h":0.8741,"l":0.87366,"c":0.87368},{"i":198,"o":0.8737,"h":0.87405,"l":0.87364,"c":0.87393},{"i":199,"o":0.87396,"h":0.87424,"l":0.87378,"c":0.87413},
{"i":200,"o":0.87413,"h":0.87508,"l":0.87396,"c":0.87447},{"i":201,"o":0.87448,"h":0.87556,"l":0.87426,"c":0.87531},{"i":202,"o":0.87533,"h":0.87623,"l":0.875,"c":0.87578},{"i":203,"o":0.87574,"h":0.87651,"l":0.87543,"c":0.87649},{"i":204,"o":0.87649,"h":0.87659,"l":0.87598,"c":0.87611},{"i":205,"o":0.87615,"h":0.87645,"l":0.87575,"c":0.87594},{"i":206,"o":0.87594,"h":0.87633,"l":0.87547,"c":0.87627},{"i":207,"o":0.87625,"h":0.8764,"l":0.87563,"c":0.87577},{"i":208,"o":0.87578,"h":0.87603,"l":0.87549,"c":0.87549},{"i":209,"o":0.87532,"h":0.87571,"l":0.87473,"c":0.87474},
{"i":210,"o":0.87475,"h":0.87477,"l":0.87372,"c":0.87451},{"i":211,"o":0.87451,"h":0.87475,"l":0.87426,"c":0.87453},{"i":212,"o":0.87452,"h":0.87559,"l":0.87451,"c":0.87516},{"i":213,"o":0.87516,"h":0.87707,"l":0.87514,"c":0.87612},{"i":214,"o":0.87612,"h":0.87682,"l":0.8761,"c":0.87662},{"i":215,"o":0.87664,"h":0.87666,"l":0.87592,"c":0.87606},{"i":216,"o":0.87604,"h":0.87658,"l":0.87577,"c":0.87635},{"i":217,"o":0.87634,"h":0.87658,"l":0.87633,"c":0.87636},{"i":218,"o":0.87635,"h":0.87746,"l":0.87633,"c":0.87701},{"i":219,"o":0.87701,"h":0.87717,"l":0.87641,"c":0.87685},
{"i":220,"o":0.87686,"h":0.88037,"l":0.87678,"c":0.8796},{"i":221,"o":0.87963,"h":0.87963,"l":0.87809,"c":0.87811},{"i":222,"o":0.87817,"h":0.87846,"l":0.87791,"c":0.87804},{"i":223,"o":0.87805,"h":0.87805,"l":0.87735,"c":0.87772},{"i":224,"o":0.87772,"h":0.87879,"l":0.87746,"c":0.87874},{"i":225,"o":0.87873,"h":0.88022,"l":0.87863,"c":0.87955},{"i":226,"o":0.87955,"h":0.87955,"l":0.8783,"c":0.8784},{"i":227,"o":0.87837,"h":0.87896,"l":0.87814,"c":0.87849},{"i":228,"o":0.87848,"h":0.87896,"l":0.87815,"c":0.8785},{"i":229,"o":0.87848,"h":0.87908,"l":0.87845,"c":0.87888},
{"i":230,"o":0.87889,"h":0.87889,"l":0.87827,"c":0.87827},{"i":231,"o":0.87823,"h":0.87859,"l":0.87781,"c":0.87854},{"i":232,"o":0.87854,"h":0.87887,"l":0.87822,"c":0.87848},{"i":233,"o":0.87836,"h":0.87905,"l":0.87804,"c":0.87844},{"i":234,"o":0.87844,"h":0.87871,"l":0.87836,"c":0.87836},{"i":235,"o":0.87836,"h":0.87963,"l":0.87834,"c":0.87903},{"i":236,"o":0.87903,"h":0.87934,"l":0.87871,"c":0.8791},{"i":237,"o":0.8791,"h":0.87945,"l":0.87879,"c":0.87894},{"i":238,"o":0.87892,"h":0.87912,"l":0.87832,"c":0.87833},{"i":239,"o":0.87829,"h":0.87864,"l":0.87791,"c":0.87852},
{"i":240,"o":0.87852,"h":0.87929,"l":0.87851,"c":0.87929},{"i":241,"o":0.87933,"h":0.88002,"l":0.87921,"c":0.87998},{"i":242,"o":0.87993,"h":0.88161,"l":0.87991,"c":0.88052},{"i":243,"o":0.88052,"h":0.88103,"l":0.87991,"c":0.88013},{"i":244,"o":0.88015,"h":0.88081,"l":0.88003,"c":0.88066},{"i":245,"o":0.88065,"h":0.88104,"l":0.88011,"c":0.88034},{"i":246,"o":0.88035,"h":0.88075,"l":0.87962,"c":0.88024},{"i":247,"o":0.88025,"h":0.88025,"l":0.87931,"c":0.87954},{"i":248,"o":0.87956,"h":0.88005,"l":0.87913,"c":0.8795},{"i":249,"o":0.8795,"h":0.88013,"l":0.87931,"c":0.88013},
{"i":250,"o":0.88013,"h":0.88104,"l":0.87987,"c":0.88047},{"i":251,"o":0.88047,"h":0.88069,"l":0.87987,"c":0.88015},{"i":252,"o":0.88017,"h":0.88017,"l":0.87987,"c":0.87995},{"i":253,"o":0.88003,"h":0.88015,"l":0.87944,"c":0.8796},{"i":254,"o":0.87983,"h":0.88268,"l":0.8785,"c":0.88251},{"i":255,"o":0.88254,"h":0.88254,"l":0.88198,"c":0.88199},{"i":256,"o":0.882,"h":0.88229,"l":0.88167,"c":0.88199},{"i":257,"o":0.88199,"h":0.88217,"l":0.88144,"c":0.88169},{"i":258,"o":0.88172,"h":0.88213,"l":0.88167,"c":0.88194},{"i":259,"o":0.88194,"h":0.88237,"l":0.88155,"c":0.88231},
{"i":260,"o":0.88229,"h":0.88262,"l":0.88208,"c":0.8821},{"i":261,"o":0.88207,"h":0.88336,"l":0.88192,"c":0.88279},{"i":262,"o":0.88281,"h":0.88281,"l":0.88125,"c":0.88194},{"i":263,"o":0.88199,"h":0.88225,"l":0.88184,"c":0.88192},{"i":264,"o":0.88186,"h":0.88259,"l":0.88184,"c":0.88217},{"i":265,"o":0.88219,"h":0.8827,"l":0.88151,"c":0.88257},{"i":266,"o":0.88256,"h":0.88258,"l":0.88077,"c":0.88079},{"i":267,"o":0.88079,"h":0.88137,"l":0.88048,"c":0.88135},{"i":268,"o":0.88138,"h":0.88151,"l":0.88095,"c":0.88098},{"i":269,"o":0.88102,"h":0.88102,"l":0.87952,"c":0.87974},
{"i":270,"o":0.87974,"h":0.88071,"l":0.87954,"c":0.88006},{"i":271,"o":0.88008,"h":0.88061,"l":0.87917,"c":0.8796},{"i":272,"o":0.8796,"h":0.88052,"l":0.87948,"c":0.88015},{"i":273,"o":0.88015,"h":0.88073,"l":0.8797,"c":0.88047},{"i":274,"o":0.88044,"h":0.88107,"l":0.87987,"c":0.88106},{"i":275,"o":0.88108,"h":0.88171,"l":0.88102,"c":0.88107},{"i":276,"o":0.88103,"h":0.8814,"l":0.88077,"c":0.88121},{"i":277,"o":0.88121,"h":0.88208,"l":0.88118,"c":0.88192},{"i":278,"o":0.88192,"h":0.88221,"l":0.88188,"c":0.8821},{"i":279,"o":0.8821,"h":0.88229,"l":0.88188,"c":0.88207},
{"i":280,"o":0.88209,"h":0.88259,"l":0.88188,"c":0.88189},{"i":281,"o":0.88161,"h":0.88188,"l":0.88135,"c":0.88148},{"i":282,"o":0.88148,"h":0.88171,"l":0.88098,"c":0.88138},{"i":283,"o":0.88139,"h":0.88139,"l":0.88044,"c":0.88079},{"i":284,"o":0.88079,"h":0.88102,"l":0.88044,"c":0.88061},{"i":285,"o":0.88064,"h":0.88184,"l":0.8802,"c":0.88096},{"i":286,"o":0.88096,"h":0.88139,"l":0.88061,"c":0.8813},{"i":287,"o":0.88112,"h":0.88153,"l":0.88093,"c":0.8813},{"i":288,"o":0.88116,"h":0.88135,"l":0.88056,"c":0.8808},{"i":289,"o":0.88084,"h":0.88114,"l":0.88038,"c":0.88108},
{"i":290,"o":0.88103,"h":0.88157,"l":0.88103,"c":0.88136},{"i":291,"o":0.88136,"h":0.88208,"l":0.8811,"c":0.88207},{"i":292,"o":0.88207,"h":0.88311,"l":0.88135,"c":0.88184},{"i":293,"o":0.8819,"h":0.88229,"l":0.88158,"c":0.88169},{"i":294,"o":0.88167,"h":0.88244,"l":0.88167,"c":0.88197},{"i":295,"o":0.882,"h":0.88225,"l":0.88188,"c":0.88214},{"i":296,"o":0.88215,"h":0.88223,"l":0.8818,"c":0.88181},{"i":297,"o":0.88184,"h":0.88212,"l":0.88116,"c":0.88117},{"i":298,"o":0.8812,"h":0.88135,"l":0.87972,"c":0.87996},{"i":299,"o":0.87992,"h":0.88092,"l":0.8797,"c":0.88007},
{"i":300,"o":0.88005,"h":0.88093,"l":0.88003,"c":0.88052},{"i":301,"o":0.88052,"h":0.88093,"l":0.8805,"c":0.88077},{"i":302,"o":0.88077,"h":0.88126,"l":0.88073,"c":0.8811},{"i":303,"o":0.8811,"h":0.8813,"l":0.88069,"c":0.88126},{"i":304,"o":0.88126,"h":0.88147,"l":0.88043,"c":0.88043},{"i":305,"o":0.88061,"h":0.88147,"l":0.88059,"c":0.88081},{"i":306,"o":0.88081,"h":0.8813,"l":0.88059,"c":0.88125},{"i":307,"o":0.88121,"h":0.8818,"l":0.88084,"c":0.88085},{"i":308,"o":0.88087,"h":0.8818,"l":0.88085,"c":0.88157},{"i":309,"o":0.88158,"h":0.88208,"l":0.88157,"c":0.88184},
{"i":310,"o":0.88186,"h":0.88196,"l":0.88151,"c":0.88154},{"i":311,"o":0.88159,"h":0.88196,"l":0.88135,"c":0.88136},{"i":312,"o":0.88133,"h":0.88163,"l":0.8813,"c":0.88153},{"i":313,"o":0.88155,"h":0.88188,"l":0.88098,"c":0.881},{"i":314,"o":0.88102,"h":0.88126,"l":0.88052,"c":0.8807},{"i":315,"o":0.88072,"h":0.8819,"l":0.88051,"c":0.88123},{"i":316,"o":0.88121,"h":0.8818,"l":0.88069,"c":0.8807},{"i":317,"o":0.88073,"h":0.88114,"l":0.88048,"c":0.88103},{"i":318,"o":0.88103,"h":0.8813,"l":0.88081,"c":0.88118},{"i":319,"o":0.88118,"h":0.88163,"l":0.88093,"c":0.8816},
{"i":320,"o":0.88161,"h":0.8819,"l":0.88081,"c":0.88118},{"i":321,"o":0.88116,"h":0.88116,"l":0.88003,"c":0.88028},{"i":322,"o":0.88027,"h":0.88052,"l":0.87988,"c":0.88025},{"i":323,"o":0.88029,"h":0.88052,"l":0.87991,"c":0.87995},{"i":324,"o":0.87997,"h":0.88,"l":0.87944,"c":0.87969},{"i":325,"o":0.8797,"h":0.87979,"l":0.87923,"c":0.8796},{"i":326,"o":0.8796,"h":0.88,"l":0.87958,"c":0.87997},{"i":327,"o":0.87997,"h":0.88036,"l":0.87987,"c":0.88031},{"i":328,"o":0.88035,"h":0.88059,"l":0.87987,"c":0.88029},{"i":329,"o":0.88027,"h":0.88065,"l":0.88003,"c":0.88025},
{"i":330,"o":0.88021,"h":0.88065,"l":0.8802,"c":0.88061},{"i":331,"o":0.88065,"h":0.88148,"l":0.88061,"c":0.88081},{"i":332,"o":0.88089,"h":0.88122,"l":0.88059,"c":0.88081},{"i":333,"o":0.88087,"h":0.88136,"l":0.8802,"c":0.88093},{"i":334,"o":0.88097,"h":0.8811,"l":0.88038,"c":0.8804},{"i":335,"o":0.88044,"h":0.88073,"l":0.88011,"c":0.88013},{"i":336,"o":0.88013,"h":0.88092,"l":0.88009,"c":0.88073},{"i":337,"o":0.88072,"h":0.88072,"l":0.88,"c":0.88001},{"i":338,"o":0.88008,"h":0.88008,"l":0.87837,"c":0.87851},{"i":339,"o":0.87851,"h":0.87915,"l":0.87841,"c":0.87913},
{"i":340,"o":0.87915,"h":0.87946,"l":0.87876,"c":0.87921},{"i":341,"o":0.87921,"h":0.87952,"l":0.87898,"c":0.87944},{"i":342,"o":0.87941,"h":0.88048,"l":0.87938,"c":0.88029},{"i":343,"o":0.88009,"h":0.88043,"l":0.87977,"c":0.88029},{"i":344,"o":0.88013,"h":0.8804,"l":0.87962,"c":0.88002},{"i":345,"o":0.88002,"h":0.88024,"l":0.87954,"c":0.87965},{"i":346,"o":0.87965,"h":0.88161,"l":0.87482,"c":0.87605},{"i":347,"o":0.87603,"h":0.87724,"l":0.87603,"c":0.87638},{"i":348,"o":0.87635,"h":0.87675,"l":0.87605,"c":0.87648},{"i":349,"o":0.87648,"h":0.87654,"l":0.87589,"c":0.87621},
{"i":350,"o":0.87622,"h":0.87667,"l":0.87601,"c":0.87645},{"i":351,"o":0.87639,"h":0.87687,"l":0.87605,"c":0.87677},{"i":352,"o":0.87675,"h":0.87695,"l":0.87605,"c":0.87637},{"i":353,"o":0.87645,"h":0.87675,"l":0.87597,"c":0.87605},{"i":354,"o":0.87607,"h":0.87681,"l":0.8726,"c":0.87262},{"i":355,"o":0.87266,"h":0.87285,"l":0.87153,"c":0.87244},{"i":356,"o":0.87244,"h":0.87264,"l":0.87163,"c":0.87211},{"i":357,"o":0.87211,"h":0.87252,"l":0.87203,"c":0.87219},{"i":358,"o":0.87232,"h":0.87274,"l":0.86948,"c":0.8697},{"i":359,"o":0.86969,"h":0.87077,"l":0.86969,"c":0.87064},
{"i":360,"o":0.87062,"h":0.87062,"l":0.86922,"c":0.86965},{"i":361,"o":0.86969,"h":0.87026,"l":0.86888,"c":0.86951},{"i":362,"o":0.86951,"h":0.87028,"l":0.86901,"c":0.86928},{"i":363,"o":0.86932,"h":0.87047,"l":0.86928,"c":0.87015},{"i":364,"o":0.87015,"h":0.87038,"l":0.86876,"c":0.86914},{"i":365,"o":0.86914,"h":0.87082,"l":0.86891,"c":0.87054},{"i":366,"o":0.87052,"h":0.87052,"l":0.87001,"c":0.87026},{"i":367,"o":0.87022,"h":0.87102,"l":0.8702,"c":0.87059},{"i":368,"o":0.87062,"h":0.87133,"l":0.86954,"c":0.87061},{"i":369,"o":0.87061,"h":0.87197,"l":0.87059,"c":0.87135},
{"i":370,"o":0.87135,"h":0.87223,"l":0.87133,"c":0.87192},{"i":371,"o":0.87192,"h":0.872,"l":0.87075,"c":0.87085},{"i":372,"o":0.87085,"h":0.87176,"l":0.87071,"c":0.87127},{"i":373,"o":0.87127,"h":0.87127,"l":0.87079,"c":0.8708},{"i":374,"o":0.87082,"h":0.87084,"l":0.8702,"c":0.87051},{"i":375,"o":0.87049,"h":0.87069,"l":0.87034,"c":0.87069},{"i":376,"o":0.87066,"h":0.87148,"l":0.87063,"c":0.87089},{"i":377,"o":0.87089,"h":0.87125,"l":0.87084,"c":0.871},{"i":378,"o":0.87098,"h":0.87137,"l":0.87092,"c":0.87118},{"i":379,"o":0.87121,"h":0.87178,"l":0.87096,"c":0.8712},
{"i":380,"o":0.87121,"h":0.8717,"l":0.86979,"c":0.86987},{"i":381,"o":0.86988,"h":0.8703,"l":0.86858,"c":0.86942},{"i":382,"o":0.86949,"h":0.8696,"l":0.86878,"c":0.86903},{"i":383,"o":0.86905,"h":0.86905,"l":0.86854,"c":0.86858},{"i":384,"o":0.86858,"h":0.86983,"l":0.86804,"c":0.86938},{"i":385,"o":0.86938,"h":0.8702,"l":0.86936,"c":0.8701},{"i":386,"o":0.87013,"h":0.87033,"l":0.86878,"c":0.86882},{"i":387,"o":0.86884,"h":0.8694,"l":0.86836,"c":0.8688},{"i":388,"o":0.8688,"h":0.86942,"l":0.86878,"c":0.86931},{"i":389,"o":0.86931,"h":0.86932,"l":0.86837,"c":0.8687},
{"i":390,"o":0.86873,"h":0.86874,"l":0.8674,"c":0.86788},{"i":391,"o":0.86795,"h":0.86873,"l":0.86792,"c":0.86873},{"i":392,"o":0.86873,"h":0.8704,"l":0.86837,"c":0.8702},{"i":393,"o":0.87023,"h":0.87077,"l":0.86891,"c":0.86891},{"i":394,"o":0.86891,"h":0.86907,"l":0.86784,"c":0.86821},{"i":395,"o":0.86821,"h":0.86928,"l":0.86819,"c":0.86878},{"i":396,"o":0.8688,"h":0.86956,"l":0.86866,"c":0.86943},{"i":397,"o":0.86945,"h":0.8703,"l":0.86917,"c":0.86955},{"i":398,"o":0.86953,"h":0.86983,"l":0.8694,"c":0.86951},{"i":399,"o":0.86949,"h":0.86951,"l":0.86726,"c":0.86755},
{"i":400,"o":0.86757,"h":0.86757,"l":0.86642,"c":0.86657},{"i":401,"o":0.86646,"h":0.86698,"l":0.86598,"c":0.86622},{"i":402,"o":0.86625,"h":0.8664,"l":0.86532,"c":0.8657},{"i":403,"o":0.86569,"h":0.86667,"l":0.86474,"c":0.86638},{"i":404,"o":0.86636,"h":0.86669,"l":0.8654,"c":0.86542},{"i":405,"o":0.86542,"h":0.86625,"l":0.86517,"c":0.86611},{"i":406,"o":0.86609,"h":0.86773,"l":0.8657,"c":0.86766},{"i":407,"o":0.86765,"h":0.86768,"l":0.86721,"c":0.86753},{"i":408,"o":0.86755,"h":0.86798,"l":0.86745,"c":0.86773},{"i":409,"o":0.86777,"h":0.86782,"l":0.86746,"c":0.86767}]
},
"layer":[
{"data":{"name":"frame"},"mark":{"type":"rect","color":"#A8A8A8"},"encoding":{
"x":{"field":"x","type":"quantitative","scale":{"domain":[-0.375,467.375],"nice":false,"zero":false},"axis":{"orient":"bottom","values":[0,16,32,48,64,80,96,112,128,144,160,176,192,208,224,240,256,272,288,304,320,336,352,368,384,400],"labelExpr":"['25 Jun 2014','25 Jun 23:00','26 Jun 15:00','27 Jun 07:00','27 Jun 23:00','30 Jun 15:00','1 Jul 07:00','1 Jul 23:00','2 Jul 15:00','3 Jul 07:00','3 Jul 23:00','4 Jul 15:00','7 Jul 07:00','7 Jul 23:00','8 Jul 15:00','9 Jul 07:00','9 Jul 23:00','10 Jul 15:00','11 Jul 07:00','11 Jul 23:00','14 Jul 15:00','15 Jul 07:00','15 Jul 23:00','16 Jul 15:00','17 Jul 07:00','17 Jul 23:00'][datum.value/16]","labelAlign":"left","labelOffset":-1,"labelOverlap":false,"labelBound":false,"labelFlush":false,"labelFont":"DejaVu Sans Condensed, Liberation Sans","labelFontSize":9,"labelColor":"black","tickColor":"black","tickSize":3,"labelPadding":2,"domainColor":"black"}},
"x2":{"field":"x2"},
"y":{"field":"y","type":"quantitative","scale":{"domain":[0.863478,0.885125],"nice":false,"zero":false,"round":true},"axis":{"orient":"right","values":[0.8843,0.88345,0.88265,0.8818,0.881,0.88015,0.87935,0.8785,0.87765,0.87685,0.876,0.87515,0.87435,0.8735,0.8727,0.87185,0.871,0.87015,0.86935,0.8685,0.8677,0.86685,0.86605,0.8652,0.8644,0.86355],"format":".5f","labelOverlap":false,"labelBound":false,"labelFont":"DejaVu Sans Condensed, Liberation Sans","labelFontSize":9,"labelColor":"black","tickColor":"black","tickSize":3,"labelPadding":3,"domainColor":"black"}},
"y2":{"field":"y2"}}},
{"data":{"name":"zones"},"mark":{"type":"rect","color":"#00FFFF"},"encoding":{"x":{"field":"x","type":"quantitative","scale":{"domain":[-0.375,467.375],"nice":false,"zero":false},"axis":null},"x2":{"field":"x2"},"y":{"field":"y","type":"quantitative","scale":{"domain":[0.863478,0.885125],"nice":false,"zero":false,"round":true},"axis":null},"y2":{"field":"y2"}}},
{"data":{"name":"spikes"},"mark":{"type":"rect","color":"#FF00FF"},"encoding":{"x":{"field":"x","type":"quantitative","scale":{"domain":[-0.375,467.375],"nice":false,"zero":false},"axis":null},"x2":{"field":"x2"},"y":{"field":"y","type":"quantitative","scale":{"domain":[0.863478,0.885125],"nice":false,"zero":false,"round":true},"axis":null},"y2":{"field":"y2"}}},
{"data":{"name":"labels"},"mark":{"type":"rect"},"encoding":{"x":{"field":"x","type":"quantitative","scale":{"domain":[-0.375,467.375],"nice":false,"zero":false},"axis":null},"x2":{"field":"x2"},"y":{"field":"y","type":"quantitative","scale":{"domain":[0.863478,0.885125],"nice":false,"zero":false,"round":true},"axis":null},"y2":{"field":"y2"},"color":{"field":"k","type":"nominal","scale":{"domain":["sell","buy1","buy2"],"range":["#FF4E00","#2DB38A","#3CB371"]},"legend":null}}},
{"data":{"name":"labels"},"mark":{"type":"text","font":"Liberation Sans","fontSize":16,"color":"#111111","align":"center","baseline":"middle"},"encoding":{"x":{"field":"xm","type":"quantitative","scale":{"domain":[-0.375,467.375],"nice":false,"zero":false},"axis":null},"y":{"field":"ym","type":"quantitative","scale":{"domain":[0.863478,0.885125],"nice":false,"zero":false,"round":true},"axis":null},"text":{"field":"t"}}},
{"data":{"name":"profile"},"mark":{"type":"rule","strokeWidth":1,"yOffset":0.5,"y2Offset":0.5},"encoding":{"x":{"field":"x","type":"quantitative","scale":{"domain":[-0.375,467.375],"nice":false,"zero":false},"axis":null},"x2":{"field":"x2"},"y":{"field":"y","type":"quantitative","scale":{"domain":[0.863478,0.885125],"nice":false,"zero":false,"round":true},"axis":null},"color":{"field":"k","type":"nominal","scale":{"domain":["d","l"],"range":["#808080","#D3D3D3"]},"legend":null}}},
{"data":{"values":[{"x":-0.125,"x2":467.125,"y":0.86767}]},"mark":{"type":"rule","color":"#C0C0C0","strokeWidth":1,"yOffset":0.5},"encoding":{"x":{"field":"x","type":"quantitative","scale":{"domain":[-0.375,467.375],"nice":false,"zero":false},"axis":null},"x2":{"field":"x2"},"y":{"field":"y","type":"quantitative","scale":{"domain":[0.863478,0.885125],"nice":false,"zero":false,"round":true},"axis":null}}},
{"data":{"name":"cross"},"mark":{"type":"rule","color":"#FF0000","strokeWidth":1},"encoding":{"x":{"field":"x","type":"quantitative","scale":{"domain":[-0.375,467.375],"nice":false,"zero":false},"axis":null},"y":{"field":"y","type":"quantitative","scale":{"domain":[0.863478,0.885125],"nice":false,"zero":false,"round":true},"axis":null},"y2":{"field":"y2"}}},
{"data":{"name":"levels"},"mark":{"type":"rule","color":"#FF0000","strokeWidth":1,"yOffset":0.5,"y2Offset":0.5},"encoding":{"x":{"field":"x","type":"quantitative","scale":{"domain":[-0.375,467.375],"nice":false,"zero":false},"axis":null},"x2":{"field":"x2"},"y":{"field":"y","type":"quantitative","scale":{"domain":[0.863478,0.885125],"nice":false,"zero":false,"round":true},"axis":null}}},
{"data":{"values":[{"x":262.6,"y":0.87495,"t":"Copyright, 18 Jule 2014"},{"x":262.6,"y":0.8745,"t":"http://volume-trade.com/"}]},"mark":{"type":"text","font":"Liberation Sans","fontSize":19,"color":"#FF0000","align":"left","baseline":"alphabetic"},"encoding":{"x":{"field":"x","type":"quantitative","scale":{"domain":[-0.375,467.375],"nice":false,"zero":false},"axis":null},"y":{"field":"y","type":"quantitative","scale":{"domain":[0.863478,0.885125],"nice":false,"zero":false,"round":true},"axis":null},"text":{"field":"t"}}},
{"data":{"values":[{"x":254,"y":0.87862}]},"mark":{"type":"point","shape":"M0,-1L1,0L0.4,0L0.4,1L-0.4,1L-0.4,0L-1,0Z","size":100,"filled":true,"fill":"white","stroke":"#FF5050","strokeWidth":1,"opacity":1},"encoding":{"x":{"field":"x","type":"quantitative","scale":{"domain":[-0.375,467.375],"nice":false,"zero":false},"axis":null},"y":{"field":"y","type":"quantitative","scale":{"domain":[0.863478,0.885125],"nice":false,"zero":false,"round":true},"axis":null}}},
{"data":{"name":"candles"},"mark":{"type":"rule","color":"black","strokeWidth":1},"encoding":{"x":{"field":"i","type":"quantitative","scale":{"domain":[-0.375,467.375],"nice":false,"zero":false},"axis":null},"y":{"field":"h","type":"quantitative","scale":{"domain":[0.863478,0.885125],"nice":false,"zero":false,"round":true},"axis":null},"y2":{"field":"l"}}},
{"data":{"name":"candles"},"transform":[{"filter":"datum.c<datum.o"}],"mark":{"type":"bar","size":3,"color":"black"},"encoding":{"x":{"field":"i","type":"quantitative","scale":{"domain":[-0.375,467.375],"nice":false,"zero":false},"axis":null},"y":{"field":"o","type":"quantitative","scale":{"domain":[0.863478,0.885125],"nice":false,"zero":false,"round":true},"axis":null},"y2":{"field":"c"}}},
{"data":{"name":"candles"},"transform":[{"filter":"datum.c>=datum.o"}],"mark":{"type":"bar","size":2,"fill":"white","stroke":"black","strokeWidth":1,"yOffset":0.5,"y2Offset":0.5},"encoding":{"x":{"field":"i","type":"quantitative","scale":{"domain":[-0.375,467.375],"nice":false,"zero":false},"axis":null},"y":{"field":"o","type":"quantitative","scale":{"domain":[0.863478,0.885125],"nice":false,"zero":false,"round":true},"axis":null},"y2":{"field":"c"}}},
{"data":{"name":"route"},"mark":{"type":"line","color":"#0000FF","strokeWidth":3},"encoding":{"x":{"field":"x","type":"quantitative","scale":{"domain":[-0.375,467.375],"nice":false,"zero":false},"axis":null},"y":{"field":"y","type":"quantitative","scale":{"domain":[0.863478,0.885125],"nice":false,"zero":false,"round":true},"axis":null}}},
{"data":{"values":[{"x":3.625,"y":0.88493,"t":"NZDUSD,H1  0.86777 0.86782 0.86746 0.86767"}]},"mark":{"type":"text","font":"DejaVu Sans Condensed, Liberation Sans","fontSize":9,"color":"#111111","align":"left","baseline":"middle"},"encoding":{"x":{"field":"x","type":"quantitative","scale":{"domain":[-0.375,467.375],"nice":false,"zero":false},"axis":null},"y":{"field":"y","type":"quantitative","scale":{"domain":[0.863478,0.885125],"nice":false,"zero":false,"round":true},"axis":null},"text":{"field":"t"}}},
{"data":{"values":[{"x":1.625,"y":0.88493,"k":"a"},{"x":410.9,"y":0.88505,"k":"b"}]},"mark":{"type":"point","shape":"triangle-down","filled":true,"size":30,"opacity":1},"encoding":{"x":{"field":"x","type":"quantitative","scale":{"domain":[-0.375,467.375],"nice":false,"zero":false},"axis":null},"y":{"field":"y","type":"quantitative","scale":{"domain":[0.863478,0.885125],"nice":false,"zero":false,"round":true},"axis":null},"color":{"field":"k","type":"nominal","scale":{"domain":["a","b"],"range":["#000000","#C0C0C0"]},"legend":null}}},
{"data":{"values":[{"x":464.875,"y":0.88345,"t":"VP GMT +2"}]},"mark":{"type":"text","font":"Liberation Sans","fontSize":11,"color":"#808080","align":"right","baseline":"middle"},"encoding":{"x":{"field":"x","type":"quantitative","scale":{"domain":[-0.375,467.375],"nice":false,"zero":false},"axis":null},"y":{"field":"y","type":"quantitative","scale":{"domain":[0.863478,0.885125],"nice":false,"zero":false,"round":true},"axis":null},"text":{"field":"t"}}},
{"data":{"name":"ytags"},"mark":{"type":"rect"},"encoding":{"x":{"field":"x","type":"quantitative","scale":{"domain":[-0.375,467.375],"nice":false,"zero":false},"axis":null},"x2":{"field":"x2"},"y":{"field":"y","type":"quantitative","scale":{"domain":[0.863478,0.885125],"nice":false,"zero":false,"round":true},"axis":null},"y2":{"field":"y2"},"color":{"field":"k","type":"nominal","scale":{"domain":["r","b"],"range":["#FF0000","#000000"]},"legend":null}}},
{"data":{"name":"ytags"},"transform":[{"filter":"datum.xt>400"}],"mark":{"type":"text","font":"DejaVu Sans Condensed, Liberation Sans","fontSize":9,"color":"white","align":"left","baseline":"middle"},"encoding":{"x":{"field":"xt","type":"quantitative","scale":{"domain":[-0.375,467.375],"nice":false,"zero":false},"axis":null},"y":{"field":"yt","type":"quantitative","scale":{"domain":[0.863478,0.885125],"nice":false,"zero":false,"round":true},"axis":null},"text":{"field":"t"}}},
{"data":{"name":"ytags"},"transform":[{"filter":"datum.xt<400"}],"mark":{"type":"text","font":"DejaVu Sans Condensed, Liberation Sans","fontSize":9,"color":"white","align":"center","baseline":"middle"},"encoding":{"x":{"field":"xt","type":"quantitative","scale":{"domain":[-0.375,467.375],"nice":false,"zero":false},"axis":null},"y":{"field":"yt","type":"quantitative","scale":{"domain":[0.863478,0.885125],"nice":false,"zero":false,"round":true},"axis":null},"text":{"field":"t"}}}
],
"resolve":{"scale":{"color":"independent"},"axis":{"x":"independent","y":"independent"}}}
